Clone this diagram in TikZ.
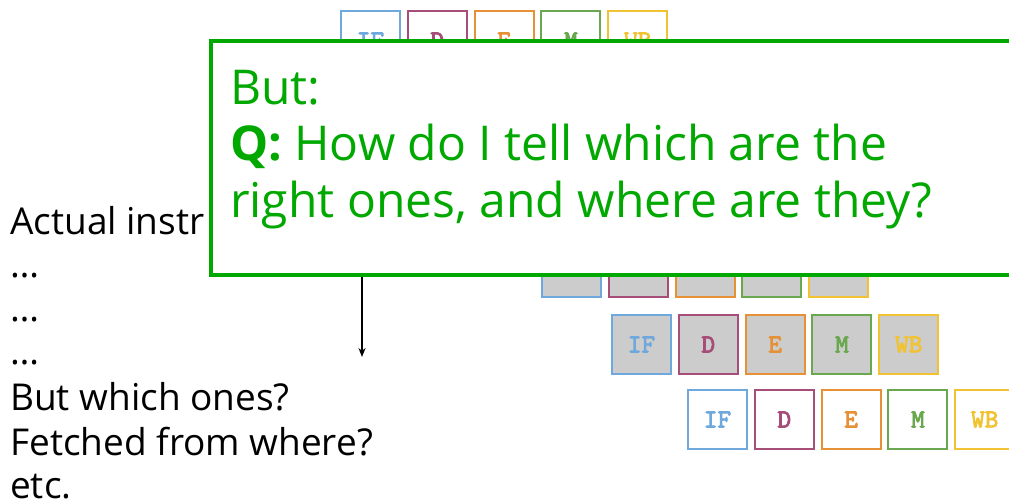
\documentclass[tikz,border=0pt]{standalone}
\usepackage{fontspec}
\setmainfont{Open Sans}
\newfontfamily\stagefont{lmmono10-regular.otf}[FakeBold=3]
\usetikzlibrary{arrows.meta}

\definecolor{ifblue}{HTML}{6FA8DC}
\definecolor{idpurple}{HTML}{A64D79}
\definecolor{exorange}{HTML}{E69138}
\definecolor{memgreen}{HTML}{6AA84F}
\definecolor{wbyellow}{HTML}{F1C232}
\definecolor{stallgrey}{HTML}{CCCCCC}
\definecolor{qgreen}{HTML}{00A800}

\tikzset{
  stagebox/.style={draw=#1, text=#1, line width=2pt, minimum size=59pt,
    inner sep=0pt, anchor=north west,
    font=\stagefont\fontsize{26}{26}\selectfont},
  plaintext/.style={anchor=base west, inner sep=0pt,
    font=\fontsize{37}{37}\selectfont},
  qtext/.style={anchor=base west, inner sep=0pt, text=qgreen,
    font=\fontsize{48}{48}\selectfont},
  qbox/.style={draw=qgreen, fill=white, line width=4pt, anchor=north west,
    inner sep=0pt, minimum width=830pt, minimum height=234pt},
}

% one pipeline row: name prefix, left edge, top edge, fill colour
\newcommand\pipelinerow[4]{%
  \foreach \lbl/\col [count=\k from 0] in
      {IF/ifblue,D/idpurple,E/exorange,M/memgreen,WB/wbyellow} {
    \node[stagebox=\col, fill=#4] (#1-\lbl) at ({#2+66.8*\k+1},{#3+1}) {\lbl};
  }%
}

\begin{document}
\begin{tikzpicture}[x=1pt,y=-1pt]
  \useasboundingbox (0,0) rectangle (1009,501);
  \clip (0,0) rectangle (1009,501);

  % pipeline rows
  \pipelinerow{rowa}{339}{9}{white}
  \pipelinerow{rowb}{540}{236}{stallgrey}
  \pipelinerow{rowc}{610}{313}{stallgrey}
  \pipelinerow{rowd}{686}{388}{white}

  % left-hand notes
  \node[plaintext] (n1) at (10,234) {Actual instr};
  \node[plaintext] (n2) at (10,277) {…};
  \node[plaintext] (n3) at (10,321) {…};
  \node[plaintext] (n4) at (10,364) {…};
  \node[plaintext] (n5) at (10,410) {But which ones?};
  \node[plaintext] (n6) at (10,455) {Fetched from where?};
  \node[plaintext] (n7) at (10,498) {etc.};

  % question box
  \node[qbox] (qbox) at (209,39) {};
  \node[qtext] (q1) at (230,104) {But:};
  \node[qtext] (q2) at (230,160) {\textbf{Q:} How do I tell which are the};
  \node[qtext] (q3) at (230,217) {right ones, and where are they?};

  % arrow down from the box
  \coordinate (arrowend) at (362,357);
  \draw[line width=1.5pt, -{Stealth[length=9pt,width=7pt]}]
    (qbox.south -| arrowend) -- (arrowend);
\end{tikzpicture}
\end{document}
